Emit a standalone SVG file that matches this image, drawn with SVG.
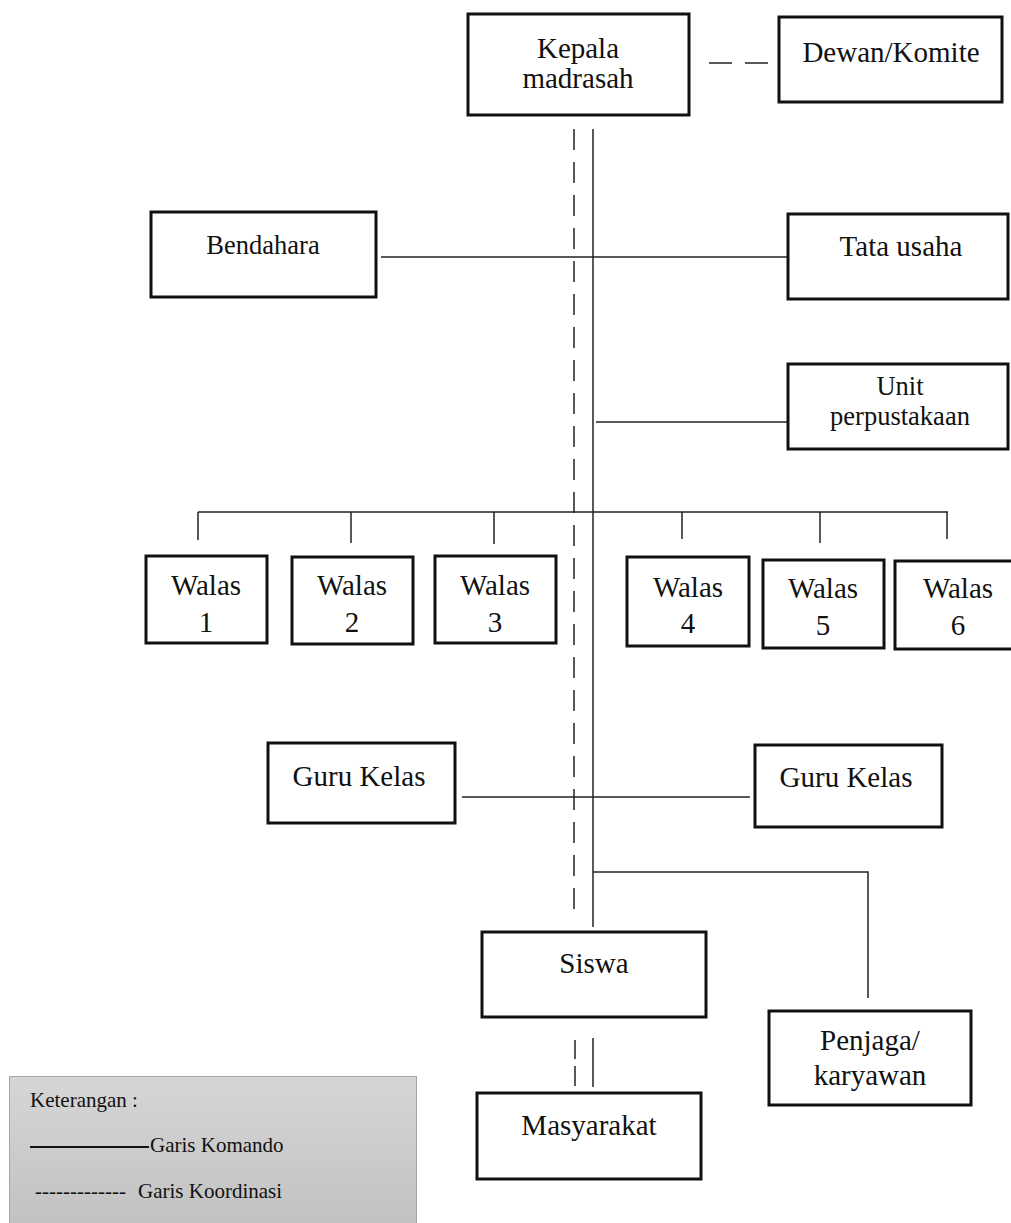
<svg xmlns="http://www.w3.org/2000/svg" width="1011" height="1223" viewBox="0 0 1011 1223">
  <defs>
    <linearGradient id="legendFill" x1="0" y1="0" x2="0" y2="1">
      <stop offset="0" stop-color="#d6d6d6"/>
      <stop offset="1" stop-color="#c0c0c0"/>
    </linearGradient>
    <style>
      .box { fill: #ffffff; stroke: #111111; stroke-width: 3; }
      .lbl { font-family: "Liberation Serif", "Times New Roman", serif; font-size: 29px; fill: #111111; text-anchor: middle; }
      .sm { font-size: 26.5px; }
      .cmd { stroke: #222222; stroke-width: 1.5; fill: none; }
      .crd { stroke: #222222; stroke-width: 1.5; fill: none; stroke-dasharray: 21 12; }
      .leg { font-family: "Liberation Serif", "Times New Roman", serif; font-size: 21px; fill: #111111; }
    </style>
  </defs>
  <rect width="1011" height="1223" fill="#ffffff"/>

  <!-- connectors -->
  <g id="connectors">
    <!-- Kepala madrasah to Dewan/Komite (coordination) -->
    <line class="cmd" x1="709" y1="63" x2="732" y2="63" stroke-width="1.8"/>
    <line class="cmd" x1="745" y1="63" x2="768" y2="63" stroke-width="1.8"/>
    <!-- main spine: command line and coordination line -->
    <line class="cmd" x1="593" y1="129" x2="593" y2="927"/>
    <line class="crd" x1="574" y1="129" x2="574" y2="919"/>
    <!-- Bendahara - Tata usaha -->
    <line class="cmd" x1="381" y1="257" x2="788" y2="257"/>
    <!-- Unit perpustakaan -->
    <line class="cmd" x1="596" y1="422" x2="788" y2="422"/>
    <!-- Walas branch -->
    <line class="cmd" x1="198" y1="512" x2="948" y2="512"/>
    <line class="cmd" x1="198" y1="512" x2="198" y2="540"/>
    <line class="cmd" x1="351" y1="512" x2="351" y2="543"/>
    <line class="cmd" x1="494" y1="512" x2="494" y2="544"/>
    <line class="cmd" x1="682" y1="512" x2="682" y2="539"/>
    <line class="cmd" x1="820" y1="512" x2="820" y2="543"/>
    <line class="cmd" x1="947" y1="512" x2="947" y2="539"/>
    <!-- Guru Kelas -->
    <line class="cmd" x1="462" y1="797" x2="750" y2="797"/>
    <!-- Penjaga/karyawan branch -->
    <polyline class="cmd" points="593,872 868,872 868,998"/>
    <!-- Siswa to Masyarakat -->
    <line class="cmd" x1="593" y1="1038" x2="593" y2="1087"/>
    <line class="cmd" x1="575" y1="1040" x2="575" y2="1059"/>
    <line class="cmd" x1="575" y1="1066" x2="575" y2="1086"/>
  </g>

  <g id="kepala">
    <rect class="box" x="468" y="14" width="221" height="101"/>
    <text class="lbl" x="578" y="58">Kepala</text>
    <text class="lbl" x="578" y="88">madrasah</text>
  </g>
  <g id="dewan">
    <rect class="box" x="779" y="17" width="223" height="85"/>
    <text class="lbl" x="891" y="62">Dewan/Komite</text>
  </g>
  <g id="bendahara">
    <rect class="box" x="151" y="212" width="225" height="85"/>
    <text class="lbl sm" x="263" y="254">Bendahara</text>
  </g>
  <g id="tata-usaha">
    <rect class="box" x="788" y="214" width="220" height="85"/>
    <text class="lbl" x="901" y="256">Tata usaha</text>
  </g>
  <g id="unit-perpustakaan">
    <rect class="box" x="788" y="364" width="220" height="85"/>
    <text class="lbl sm" x="900" y="395">Unit</text>
    <text class="lbl sm" x="900" y="425">perpustakaan</text>
  </g>

  <g id="walas-1">
    <rect class="box" x="146" y="556" width="121" height="87"/>
    <text class="lbl" x="206" y="595">Walas</text>
    <text class="lbl" x="206" y="632">1</text>
  </g>
  <g id="walas-2">
    <rect class="box" x="292" y="557" width="121" height="87"/>
    <text class="lbl" x="352" y="595">Walas</text>
    <text class="lbl" x="352" y="632">2</text>
  </g>
  <g id="walas-3">
    <rect class="box" x="435" y="556" width="121" height="87"/>
    <text class="lbl" x="495" y="595">Walas</text>
    <text class="lbl" x="495" y="632">3</text>
  </g>
  <g id="walas-4">
    <rect class="box" x="627" y="557" width="122" height="89"/>
    <text class="lbl" x="688" y="597">Walas</text>
    <text class="lbl" x="688" y="633">4</text>
  </g>
  <g id="walas-5">
    <rect class="box" x="763" y="560" width="121" height="88"/>
    <text class="lbl" x="823" y="598">Walas</text>
    <text class="lbl" x="823" y="635">5</text>
  </g>
  <g id="walas-6">
    <rect class="box" x="895" y="561" width="126" height="88"/>
    <text class="lbl" x="958" y="598">Walas</text>
    <text class="lbl" x="958" y="635">6</text>
  </g>

  <g id="guru-kelas-kiri">
    <rect class="box" x="268" y="743" width="187" height="80"/>
    <text class="lbl" x="359" y="786">Guru Kelas</text>
  </g>
  <g id="guru-kelas-kanan">
    <rect class="box" x="755" y="745" width="187" height="82"/>
    <text class="lbl" x="846" y="787">Guru Kelas</text>
  </g>

  <g id="siswa">
    <rect class="box" x="482" y="932" width="224" height="85"/>
    <text class="lbl" x="594" y="973">Siswa</text>
  </g>
  <g id="penjaga">
    <rect class="box" x="769" y="1011" width="202" height="94"/>
    <text class="lbl" x="870" y="1050">Penjaga/</text>
    <text class="lbl" x="870" y="1085">karyawan</text>
  </g>
  <g id="masyarakat">
    <rect class="box" x="477" y="1093" width="224" height="86"/>
    <text class="lbl" x="589" y="1135">Masyarakat</text>
  </g>

  <g id="keterangan">
    <rect x="9.5" y="1076.5" width="407" height="160" fill="url(#legendFill)" stroke="#a6a6a6" stroke-width="1"/>
    <text class="leg" x="30" y="1107">Keterangan :</text>
    <line x1="30" y1="1147" x2="149" y2="1147" stroke="#111111" stroke-width="1.8"/>
    <text class="leg" x="150" y="1152">Garis Komando</text>
    <text class="leg" x="35" y="1198">-------------</text>
    <text class="leg" x="138" y="1198">Garis Koordinasi</text>
  </g>
</svg>
